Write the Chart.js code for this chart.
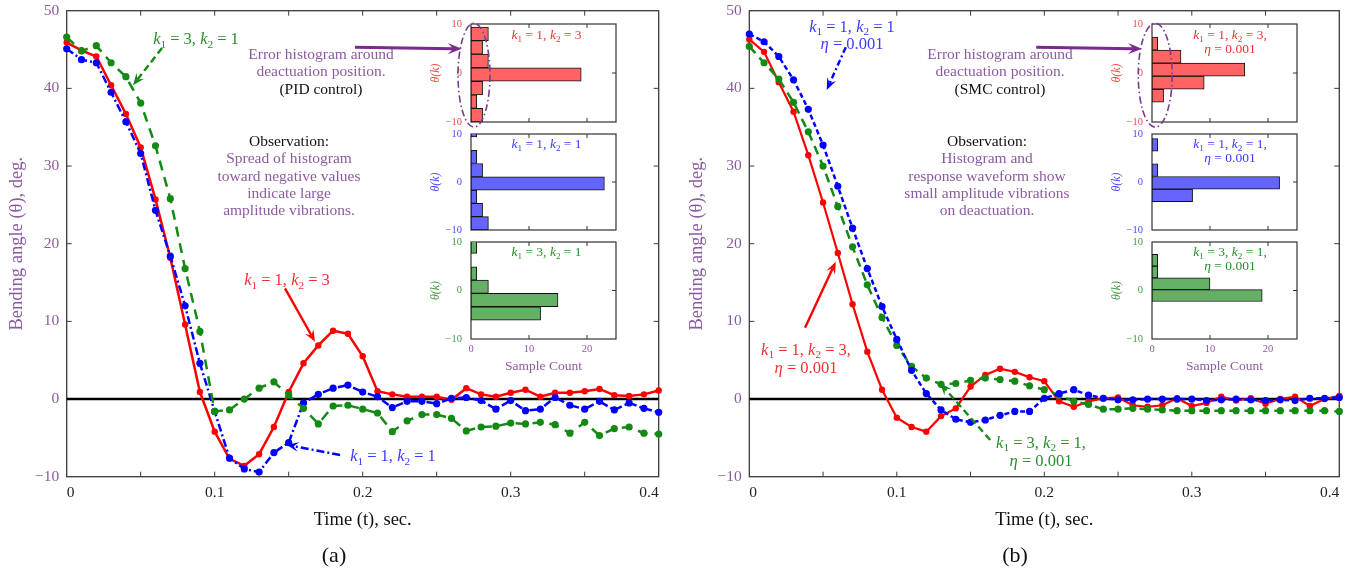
<!DOCTYPE html>
<html>
<head>
<meta charset="utf-8">
<title>Bending angle response with PID and SMC control</title>
<script src="https://cdn.jsdelivr.net/npm/chart.js@4.4.1/dist/chart.umd.min.js"></script>
<style>
html,body{margin:0;padding:0;background:#fff;}
#wrap{position:relative;width:1348px;height:571px;overflow:hidden;font-family:'Liberation Serif',serif;background:#fff;}
#wrap canvas{position:absolute;}
.t{position:absolute;white-space:nowrap;transform:translate(-50%,-50%);text-align:center;font-size:15.5px;line-height:17.4px;}
.t sub{font-size:68%;vertical-align:-0.3em;line-height:0;}
.pu{color:#8c5a9f}.bk{color:#111}.rd{color:#f23030}.bl{color:#3a3aff}.gr{color:#2a8f2a}
.mk{font-size:16.5px;}
.sm{font-size:13.5px;line-height:14px;}
.lab{font-size:22px;color:#111;}
</style>
</head>
<body>
<div id="wrap">
  <canvas id="mainA" width="680" height="571" style="left:0;top:0"></canvas>
  <canvas id="mainB" width="680" height="571" style="left:680px;top:0"></canvas>
</div>
<script>
// ---------------- data ----------------
const timeSec = [0.00,0.01,0.02,0.03,0.04,0.05,0.06,0.07,0.08,0.09,0.10,0.11,0.12,0.13,0.14,0.15,0.16,0.17,0.18,0.19,0.20,0.21,0.22,0.23,0.24,0.25,0.26,0.27,0.28,0.29,0.30,0.31,0.32,0.33,0.34,0.35,0.36,0.37,0.38,0.39,0.40];

// (a) PID control, bending angle in degrees
const pidK1_1_K2_3 = [45.9,44.9,44.1,40.4,36.7,32.4,25.7,18.2,9.6,0.9,-4.2,-7.7,-8.6,-7.1,-3.6,0.9,4.6,6.9,8.8,8.4,5.5,1.0,0.6,0.3,0.3,0.3,-0.1,1.4,0.6,0.3,0.8,1.2,0.3,0.8,0.8,1.0,1.3,0.5,0.4,0.6,1.1];
const pidK1_1_K2_1 = [45.1,43.7,43.3,39.5,35.7,31.6,24.3,18.4,12.0,4.6,-1.6,-7.6,-9.0,-9.4,-6.9,-5.6,-0.5,0.6,1.4,1.8,0.9,0.3,-1.1,-0.3,-0.3,-0.6,0.1,0.2,-0.2,-1.3,-0.2,-1.5,-1.3,0.2,-0.8,-1.3,-0.3,-1.4,-0.5,-1.2,-1.7];
const pidK1_3_K2_1 = [46.6,44.8,45.5,43.3,41.5,38.1,32.6,25.8,16.8,8.7,-1.6,-1.4,0.0,1.4,2.2,0.5,-1.2,-3.2,-0.9,-0.8,-1.3,-1.8,-4.2,-2.8,-2.0,-2.0,-2.5,-4.1,-3.6,-3.5,-3.1,-3.2,-3.0,-3.3,-4.4,-3.0,-4.7,-3.8,-3.6,-4.4,-4.5];

// (b) SMC control, eta = 0.001
const smcK1_1_K2_3 = [46.3,44.7,40.8,37.0,31.4,25.3,18.8,12.2,6.1,1.2,-2.4,-3.6,-4.2,-2.2,-1.2,1.6,3.1,3.9,3.5,2.8,2.3,-0.3,-1.0,-0.3,0.1,0.2,-0.8,-1.0,-0.8,0.1,-0.9,-0.5,0.3,-0.2,0.1,-0.6,0.0,0.3,-0.9,0.0,0.4];
const smcK1_1_K2_1 = [47.0,46.0,44.1,41.1,37.3,32.7,27.4,22.0,16.8,11.9,7.7,3.7,0.7,-1.4,-2.6,-3.0,-2.7,-2.1,-1.6,-1.6,0.1,0.7,1.2,0.5,0.1,-0.1,-0.1,0.0,0.0,0.0,0.0,-0.2,-0.1,0.0,-0.1,-0.2,-0.1,-0.2,0.1,0.1,0.2];
const smcK1_3_K2_1 = [45.4,43.3,41.2,38.2,34.4,30.0,24.8,19.6,14.7,10.5,6.9,4.2,2.7,1.9,2.0,2.4,2.7,2.5,2.3,1.7,1.2,0.5,-0.3,-0.7,-1.3,-1.3,-1.2,-1.3,-1.4,-1.5,-1.5,-1.5,-1.5,-1.5,-1.5,-1.5,-1.5,-1.5,-1.5,-1.5,-1.6];

const xTickLabels = ['0','0.1','0.2','0.3','0.4'];
const yTickLabels = ['\u221210','0','10','20','30','40','50'];
const histCountLabels = ['0','10','20'];
const histThetaLabels = ['\u221210','0','10'];

// error histograms: bin centres (deg) and sample counts
const pidHistK13Bins = [-8.615,-5.845,-3.075,-0.305,2.465,5.235,8.005];
const pidHistK13Counts = [2,1,2,19,3,2,3];
const pidHistK11Bins = [-8.615,-5.845,-3.075,-0.305,2.465,5.235,8.005,10.775];
const pidHistK11Counts = [3,2,1,23,2,1,0,1];
const pidHistK31Bins = [-4.725,-1.975,0.775,3.525,6.275,9.025];
const pidHistK31Counts = [12,15,3,1,0,1];
const smcHistK13Bins = [-4.639,-1.977,0.685,3.347,6.009];
const smcHistK13Counts = [2,9,16,5,1];
const smcHistK11Bins = [-2.804,-0.172,2.46,5.092,7.724];
const smcHistK11Counts = [7,22,1,0,1];
const smcHistK31Bins = [-1.05,1.38,3.81,6.24];
const smcHistK31Counts = [19,10,1,1];

// ---------------- styles ----------------
const PURPLE = '#8c5a9f';
const RED = '#ff0000', BLUE = '#0000ff', GREEN = '#148a14';
Chart.defaults.font.family = "'Liberation Serif', serif";
Chart.defaults.animation = false;

const framePlugin = {
  id: 'frame',
  beforeDatasetsDraw(chart, args, o) {
    const {ctx, chartArea: a, scales: {x, y}} = chart;
    ctx.save();
    ctx.strokeStyle = o.color;
    ctx.lineWidth = o.tickWidth;
    ctx.beginPath();
    x.ticks.forEach(t => {
      if (!o.xTick(t.value)) return;
      const p = x.getPixelForValue(t.value);
      if (p <= a.left + 1 || p >= a.right - 1) return;
      ctx.moveTo(p, a.bottom); ctx.lineTo(p, a.bottom - o.len);
      ctx.moveTo(p, a.top); ctx.lineTo(p, a.top + o.len);
    });
    y.ticks.forEach(t => {
      if (!o.yTick(t.value)) return;
      const p = y.getPixelForValue(t.value);
      if (p <= a.top + 1 || p >= a.bottom - 1) return;
      ctx.moveTo(a.left, p); ctx.lineTo(a.left + o.len, p);
      ctx.moveTo(a.right, p); ctx.lineTo(a.right - o.len, p);
    });
    ctx.stroke();
    ctx.lineWidth = o.width;
    ctx.strokeRect(a.left, a.top, a.right - a.left, a.bottom - a.top);
    ctx.restore();
  }
};
const noPad = s => { s.paddingTop = 0; s.paddingBottom = 0; s.paddingLeft = 0; s.paddingRight = 0; };

function mainChart(canvasId, series, yWidth, padRight) {
  const datasets = series.map(s => ({
    label: s.label,
    data: timeSec.map((t, i) => ({x: t, y: s.values[i]})),
    borderColor: s.color, backgroundColor: s.color,
    borderWidth: s.width, borderDash: s.dash,
    pointRadius: s.r, pointBorderWidth: 0, pointHoverRadius: s.r,
    tension: 0, order: s.order, clip: 8
  }));
  datasets.push({label: 'zero', data: [{x: 0, y: 0}, {x: 0.4, y: 0}], borderColor: '#000', borderWidth: 2.6, pointRadius: 0, order: 10});
  return new Chart(document.getElementById(canvasId), {
    type: 'line',
    data: {datasets},
    options: {
      responsive: false, animation: false, events: [],
      layout: {padding: {left: 0, top: 10.7, right: padRight, bottom: 0}},
      plugins: {
        legend: {display: false}, tooltip: {enabled: false},
        frame: {color: '#3a3a3a', width: 1.3, tickWidth: 1, len: 5,
                xTick: v => true, yTick: v => true}
      },
      scales: {
        x: {
          type: 'linear', min: 0, max: 0.4,
          grid: {display: false, drawTicks: false}, border: {display: false},
          ticks: {stepSize: 0.05, autoSkip: false, maxRotation: 0, align: 'inner', padding: 6.5,
                  color: '#222', font: {size: 15.5},
                  callback: v => { const k = Math.round(v * 100); return k % 10 === 0 ? xTickLabels[k / 10] : ''; }},
          title: {display: true, text: 'Time (t), sec.', color: '#111', font: {size: 18.5}, padding: {top: 0, bottom: 40}},
          afterFit: s => { s.height = 94.3; noPad(s); }
        },
        y: {
          type: 'linear', min: -10, max: 50,
          grid: {display: false, drawTicks: false}, border: {display: false},
          ticks: {stepSize: 10, padding: 7.5, color: PURPLE, font: {size: 15.5},
                  callback: v => yTickLabels[Math.round((v + 10) / 10)]},
          title: {display: true, text: 'Bending angle (\u03b8), deg.', color: PURPLE, font: {size: 18.5}, padding: {top: 6, bottom: 0}},
          afterFit: s => { s.width = yWidth; noPad(s); }
        }
      }
    },
    plugins: [framePlugin]
  });
}

const chartA = mainChart('mainA', [
  {label: 'k1=1,k2=3', values: pidK1_1_K2_3, color: RED, width: 2.5, dash: [], r: 3.2, order: 3},
  {label: 'k1=1,k2=1', values: pidK1_1_K2_1, color: BLUE, width: 2.5, dash: [8, 3, 2, 3], r: 3.6, order: 2},
  {label: 'k1=3,k2=1', values: pidK1_3_K2_1, color: GREEN, width: 2.5, dash: [10, 7], r: 3.6, order: 1}
], 66.7, 21.3);

const chartB = mainChart('mainB', [
  {label: 'k1=1,k2=3,eta=0.001', values: smcK1_1_K2_3, color: RED, width: 2.2, dash: [], r: 3.2, order: 3},
  {label: 'k1=1,k2=1,eta=0.001', values: smcK1_1_K2_1, color: BLUE, width: 2.5, dash: [5, 3], r: 3.6, order: 1},
  {label: 'k1=3,k2=1,eta=0.001', values: smcK1_3_K2_1, color: GREEN, width: 2.5, dash: [9, 6], r: 3.6, order: 2}
], 69.3, 20.7);

// ---------------- inset histograms ----------------
const wrap = document.getElementById('wrap');
function insetChart(L, T, W, H, bins, counts, fill, labelColor, showX) {
  const padL = 45, padT = 8, padR = 8, padB = showX ? 40 : 6;
  const cv = document.createElement('canvas');
  cv.width = Math.round(padL + W + padR); cv.height = Math.round(padT + H + padB);
  cv.style.left = (L - padL) + 'px'; cv.style.top = (T - padT) + 'px';
  wrap.appendChild(cv);
  return new Chart(cv, {
    type: 'bar',
    data: {datasets: [{
      data: bins.map((c, i) => ({x: counts[i], y: c})),
      backgroundColor: fill, borderColor: '#111', borderWidth: 1, borderSkipped: false,
      barPercentage: 1, categoryPercentage: 1, clip: 0
    }]},
    options: {
      indexAxis: 'y', responsive: false, animation: false, events: [],
      layout: {padding: {left: 0, top: padT, right: padR, bottom: 0}},
      plugins: {legend: {display: false}, tooltip: {enabled: false},
        frame: {color: '#333', width: 1.2, tickWidth: 1, len: 4,
                xTick: v => v > 0 && v < 25 && Math.abs(v % 10) < 1e-6, yTick: v => v === 0}},
      scales: {
        x: {type: 'linear', min: 0, max: 25, beginAtZero: true,
          grid: {display: false, drawTicks: false}, border: {display: false},
          ticks: {display: showX, stepSize: 10, autoSkip: false, maxRotation: 0, padding: 4, color: PURPLE, font: {size: 10.5},
                  callback: v => (v % 10 === 0 && v <= 20) ? histCountLabels[v / 10] : ''},
          title: {display: showX, text: 'Sample Count', color: PURPLE, font: {size: 13.5}, padding: {top: 0, bottom: 4.9}},
          afterFit: s => { s.height = padB; noPad(s); }},
        y: {type: 'linear', min: -10, max: 10, offset: false,
          grid: {display: false, drawTicks: false}, border: {display: false},
          ticks: {stepSize: 10, padding: 9, color: labelColor, font: {size: 10.5},
                  callback: v => histThetaLabels[Math.round((v + 10) / 10)]},
          title: {display: true, text: '\u03b8(k)', color: labelColor, font: {size: 12, style: 'italic'}, padding: {top: 3, bottom: 0}},
          afterFit: s => { s.width = padL; noPad(s); }}
      }
    },
    plugins: [framePlugin]
  });
}
const RFILL = '#ff6464', BFILL = '#6464ff', GFILL = '#64b064';
const RLAB = '#f24a4a', BLAB = '#4a4aff', GLAB = '#3c9c3c';
insetChart(470.7, 24.3, 145.3, 97.7, pidHistK13Bins, pidHistK13Counts, RFILL, RLAB, false);
insetChart(470.7, 133.7, 145.3, 96.3, pidHistK11Bins, pidHistK11Counts, BFILL, BLAB, false);
insetChart(470.7, 241.7, 145.3, 97.3, pidHistK31Bins, pidHistK31Counts, GFILL, GLAB, true);
insetChart(1152.3, 24.3, 145, 97.7, smcHistK13Bins, smcHistK13Counts, RFILL, RLAB, false);
insetChart(1152.3, 133.7, 145, 96.3, smcHistK11Bins, smcHistK11Counts, BFILL, BLAB, false);
insetChart(1152.3, 241.7, 145, 97.3, smcHistK31Bins, smcHistK31Counts, GFILL, GLAB, true);

// ---------------- arrows and ellipses (positions in data units) ----------------
const ov = document.createElement('canvas');
ov.width = 1348; ov.height = 571; ov.style.left = '0px'; ov.style.top = '0px';
wrap.appendChild(ov);
const octx = ov.getContext('2d');
function toPx(chart, offX, t, v) { return [offX + chart.scales.x.getPixelForValue(t), chart.scales.y.getPixelForValue(v)]; }
function drawArrow(p1, p2, a) {
  const dx = p2[0] - p1[0], dy = p2[1] - p1[1], len = Math.hypot(dx, dy);
  const ux = dx / len, uy = dy / len, nx = -uy, ny = ux;
  const L = a.head, W = a.head * 0.8;
  const notch = [p2[0] - ux * L * 0.6, p2[1] - uy * L * 0.6];
  octx.save();
  octx.strokeStyle = a.color; octx.fillStyle = a.color; octx.lineWidth = a.width;
  octx.setLineDash(a.dash);
  octx.beginPath(); octx.moveTo(p1[0], p1[1]); octx.lineTo(notch[0], notch[1]); octx.stroke();
  octx.setLineDash([]);
  octx.beginPath();
  octx.moveTo(p2[0], p2[1]);
  octx.lineTo(p2[0] - ux * L + nx * W / 2, p2[1] - uy * L + ny * W / 2);
  octx.lineTo(notch[0], notch[1]);
  octx.lineTo(p2[0] - ux * L - nx * W / 2, p2[1] - uy * L - ny * W / 2);
  octx.closePath(); octx.fill();
  octx.restore();
}
function drawEllipse(chart, offX, e) {
  const c = toPx(chart, offX, e.t, e.v);
  const rx = Math.abs(chart.scales.x.getPixelForValue(e.t + e.dt) - chart.scales.x.getPixelForValue(e.t));
  const ry = Math.abs(chart.scales.y.getPixelForValue(e.v + e.dv) - chart.scales.y.getPixelForValue(e.v));
  octx.save();
  octx.strokeStyle = '#7a3a8e'; octx.lineWidth = 1.6; octx.setLineDash([7, 3, 1.5, 3]);
  octx.beginPath(); octx.ellipse(c[0], c[1], rx, ry, 0, 0, Math.PI * 2); octx.stroke();
  octx.restore();
}
const pidArrows = [
  {from: [0.0644, 45.2], to: [0.0448, 40.4], color: GREEN, dash: [7, 4], width: 2.4, head: 12},
  {from: [0.1475, 14.25], to: [0.1678, 7.37], color: RED, dash: [], width: 2.4, head: 12},
  {from: [0.1847, -7.2], to: [0.1486, -5.9], color: BLUE, dash: [8, 3, 2, 3], width: 2.4, head: 12},
  {from: [0.1948, 45.3], to: [0.2669, 45.1], color: '#7a2a8c', dash: [], width: 3, head: 14}
];
const smcArrows = [
  {from: [0.0654, 45.3], to: [0.0525, 39.8], color: BLUE, dash: [6, 3, 2, 3], width: 2.4, head: 12},
  {from: [0.0378, 9.18], to: [0.0586, 17.67], color: RED, dash: [], width: 2.4, head: 12},
  {from: [0.1633, -5.28], to: [0.1294, 2.02], color: GREEN, dash: [7, 4], width: 2.4, head: 12},
  {from: [0.1945, 45.3], to: [0.2662, 45.1], color: '#7a2a8c', dash: [], width: 3, head: 14}
];
pidArrows.forEach(a => drawArrow(toPx(chartA, 0, a.from[0], a.from[1]), toPx(chartA, 0, a.to[0], a.to[1]), a));
smcArrows.forEach(a => drawArrow(toPx(chartB, 680, a.from[0], a.from[1]), toPx(chartB, 680, a.to[0], a.to[1]), a));
drawEllipse(chartA, 0, {t: 0.2752, v: 41.7, dt: 0.0108, dv: 6.69});
drawEllipse(chartB, 680, {t: 0.2752, v: 41.7, dt: 0.0115, dv: 6.69});

// ---------------- text annotations ----------------
const K = (a, b) => '<i>k</i><sub>1</sub> = ' + a + ', <i>k</i><sub>2</sub> = ' + b;
const texts = [
  [196, 39, 'gr mk', K(3, 1)],
  [321, 70.7, 'pu', 'Error histogram around<br>deactuation position.<br><span class="bk">(PID control)</span>'],
  [289, 175.8, 'pu', '<span class="bk">Observation:</span><br>Spread of histogram<br>toward negative values<br>indicate large<br>amplitude vibrations.'],
  [287, 280, 'rd mk', K(1, 3)],
  [393, 456, 'bl mk', K(1, 1)],
  [546.5, 35, 'rd sm', K(1, 3)],
  [546.5, 144, 'bl sm', K(1, 1)],
  [546.5, 252.3, 'gr sm', K(3, 1)],
  [334, 555, 'lab', '(a)'],
  [852, 35, 'bl mk', K(1, 1) + '<br><i>\u03b7</i> = 0.001'],
  [1000, 70.7, 'pu', 'Error histogram around<br>deactuation position.<br><span class="bk">(SMC control)</span>'],
  [987, 175.8, 'pu', '<span class="bk">Observation:</span><br>Histogram and<br>response waveform show<br>small amplitude vibrations<br>on deactuation.'],
  [806, 358.3, 'rd mk', K(1, 3) + ',<br><i>\u03b7</i> = 0.001'],
  [1041, 451.3, 'gr mk', K(3, 1) + ',<br><i>\u03b7</i> = 0.001'],
  [1230, 42.2, 'rd sm', K(1, 3) + ',<br><i>\u03b7</i> = 0.001'],
  [1230, 150.7, 'bl sm', K(1, 1) + ',<br><i>\u03b7</i> = 0.001'],
  [1230, 259, 'gr sm', K(3, 1) + ',<br><i>\u03b7</i> = 0.001'],
  [1015, 555, 'lab', '(b)']
];
texts.forEach(([x, y, cls, html]) => {
  const d = document.createElement('div');
  d.className = 't ' + cls;
  d.style.left = x + 'px'; d.style.top = y + 'px';
  d.innerHTML = html;
  wrap.appendChild(d);
});
</script>
</body>
</html>
